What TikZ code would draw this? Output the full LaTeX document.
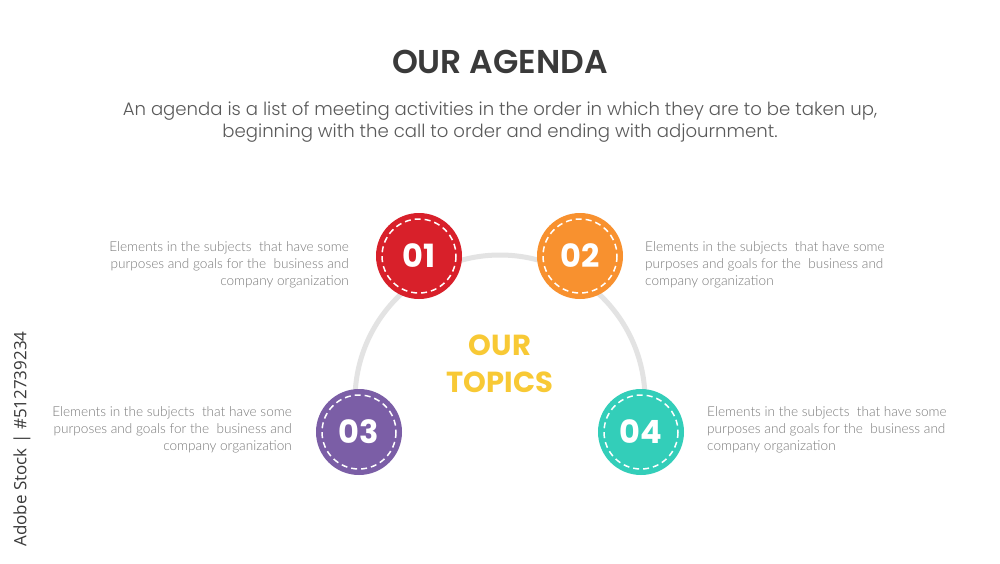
\documentclass[tikz,border=0pt]{standalone}
\usepackage{fontspec}
\setmainfont{Lato}[UprightFont=* Light]
\newfontfamily\popfont{Poppins}
\newfontfamily\poplight{Poppins}[UprightFont=* Light]
\newfontfamily\popsemi{Poppins}[UprightFont=* SemiBold]
\newfontfamily\stockfont{Open Sans}
\definecolor{titlegray}{HTML}{3A3A3A}
\definecolor{subgray}{HTML}{5A5A5A}
\definecolor{bodygray}{HTML}{7A7A7A}
\definecolor{arcgray}{HTML}{E3E3E3}
\definecolor{redone}{HTML}{D8202A}
\definecolor{orangetwo}{HTML}{F8912F}
\definecolor{purplethree}{HTML}{7B5EA6}
\definecolor{tealfour}{HTML}{33CEB9}
\definecolor{topicyellow}{HTML}{F8C935}
\begin{document}
\begin{tikzpicture}[x=1pt,y=-1pt,
    numcircle/.style={circle,minimum size=86pt,inner sep=0pt,text=white,font=\popfont\bfseries\fontsize{32}{32}\selectfont},
    bodytext/.style={inner sep=0pt,text=bodygray,font=\fontsize{13.6}{17}\selectfont}]
    \fill[white] (0,0) rectangle (1000,563);
    \useasboundingbox (0,0) rectangle (1000,563);
    %draw title
    \node (title) at (500,62) {\popsemi\fontsize{33}{33}\selectfont\color{titlegray}OUR AGENDA};
    \node (subtitle) at (500,122) [align=center,text=subgray,font=\poplight\fontsize{18.1}{22}\selectfont]
        {An agenda is a list of meeting activities in the order in which they are to be taken up,\\
         beginning with the call to order and ending with adjournment.};
    %draw arc
    \draw [arcgray,line width=5pt] (355,400) arc[start angle=180,end angle=360,radius=145];
    %draw circles
    \foreach \x/\y/\col/\num in {419/256/redone/01,580/256/orangetwo/02,359/432/purplethree/03,641/432/tealfour/04}
        {%
            \node [numcircle,fill=\col] (c\num) at (\x,\y) {\num};
            \draw [white,line width=1.5pt,dash pattern=on 6pt off 4pt] (c\num) circle[radius=37];
        }
    %draw center text
    \node (topics) at (500,364) [align=center,text=topicyellow,font=\popfont\bfseries\fontsize{29}{37}\selectfont] {OUR\\TOPICS};
    %draw descriptions
    \node [bodytext,anchor=east,align=right] (t01) at (349,265)
        {Elements in the subjects\ \ that have some\\purposes and goals for the\ \ business and\\company organization};
    \node [bodytext,anchor=west,align=left] (t02) at (645,265)
        {Elements in the subjects\ \ that have some\\purposes and goals for the\ \ business and\\company organization};
    \node [bodytext,anchor=east,align=right] (t03) at (292,430)
        {Elements in the subjects\ \ that have some\\purposes and goals for the\ \ business and\\company organization};
    \node [bodytext,anchor=west,align=left] (t04) at (707,430)
        {Elements in the subjects\ \ that have some\\purposes and goals for the\ \ business and\\company organization};
    \node [rotate=90,text=titlegray,font=\stockfont\fontsize{17}{17}\selectfont] (stock) at (22,439) {Adobe Stock | \#512739234};
\end{tikzpicture}
\end{document}
